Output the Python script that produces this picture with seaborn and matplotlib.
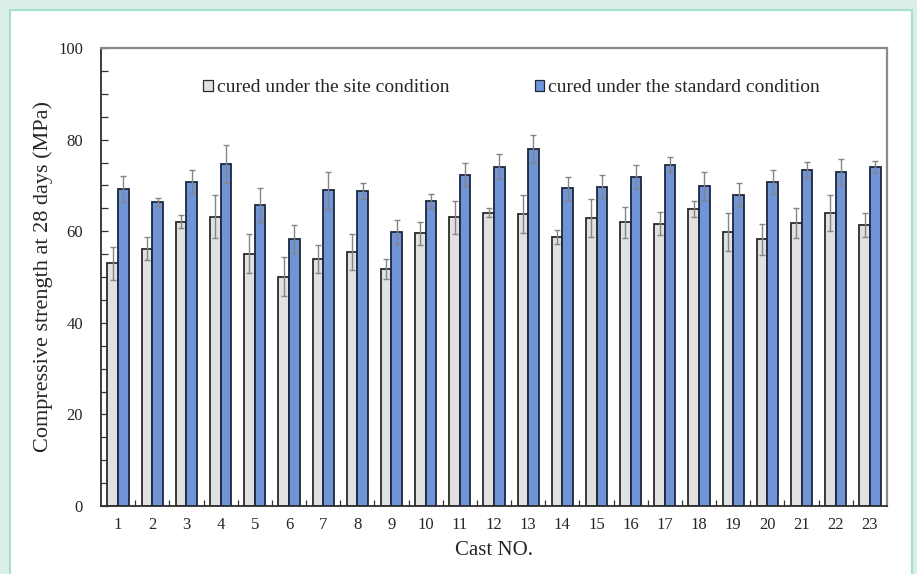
import matplotlib
matplotlib.use("Agg")
import matplotlib.pyplot as plt
from matplotlib.patches import Rectangle
from matplotlib.ticker import MultipleLocator, FixedLocator
import numpy as np
import pandas as pd
import seaborn as sns

# Cast numbers and 28-day compressive strengths (MPa)
casts = [str(i) for i in range(1, 24)]
site_mean = [53.0, 56.2, 62.1, 63.2, 55.1, 50.1, 53.9, 55.4, 51.8, 59.5, 63.0, 64.0,
             63.8, 58.7, 62.9, 61.9, 61.6, 64.8, 59.8, 58.2, 61.8, 63.9, 61.4]
site_err = [3.6, 2.5, 1.5, 4.6, 4.3, 4.2, 3.0, 3.9, 2.2, 2.5, 3.6, 1.0,
            4.2, 1.5, 4.1, 3.4, 2.5, 1.8, 4.1, 3.4, 3.2, 3.9, 2.6]
std_mean = [69.2, 66.4, 70.8, 74.7, 65.8, 58.3, 68.9, 68.8, 59.8, 66.6, 72.3, 74.1,
            77.9, 69.4, 69.7, 71.9, 74.5, 69.9, 68.0, 70.7, 73.4, 72.9, 74.0]
std_err = [2.8, 0.9, 2.6, 4.2, 3.7, 3.1, 4.1, 1.8, 2.7, 1.5, 2.5, 2.8,
           3.0, 2.5, 2.5, 2.6, 1.6, 3.1, 2.5, 2.6, 1.8, 2.9, 1.4]
series = ["cured under the site condition", "cured under the standard condition"]

df = pd.DataFrame({
    "cast": casts * 2,
    "strength": site_mean + std_mean,
    "err": site_err + std_err,
    "curing": [series[0]] * len(casts) + [series[1]] * len(casts),
})

sns.set_style("white")
plt.rcParams["font.family"] = ["Liberation Serif", "DejaVu Serif"]

fig = plt.figure(figsize=(9.17, 5.74), dpi=100)
fig.patch.set_facecolor("#dbefe7")
# white framed panel behind the chart
fig.add_artist(Rectangle((10 / 917, -0.05), 902 / 917, 1 - 10 / 574 + 0.05,
                         transform=fig.transFigure, facecolor="white",
                         edgecolor="#a9e0cc", linewidth=1.6, zorder=-10))

ax = fig.add_axes([101 / 917, 68 / 574, 786 / 917, 458 / 574])
ax.set_facecolor("white")

palette = {series[0]: "#e1e1e1", series[1]: "#6f95d6"}
sns.barplot(data=df, x="cast", y="strength", hue="curing", order=casts,
            hue_order=series, palette=palette, width=0.62, gap=0,
            errorbar=None, saturation=1, ax=ax, zorder=2)

edge = {series[0]: "#2b2b2b", series[1]: "#1d2740"}
for cont, name in zip(ax.containers, series):
    sub = df[df["curing"] == name].set_index("cast").loc[casts]
    xs = []
    for bar in cont:
        bar.set_edgecolor(edge[name])
        bar.set_linewidth(1.3)
        xs.append(bar.get_x() + bar.get_width() / 2)
    ax.errorbar(xs, sub["strength"].values, yerr=sub["err"].values, fmt="none",
                ecolor="#858585", elinewidth=1.0, capsize=2.5, capthick=1.0, zorder=3)

ax.set_xlim(-0.5, len(casts) - 0.5)
ax.set_ylim(0, 100)
ax.yaxis.set_major_locator(MultipleLocator(20))
ax.yaxis.set_minor_locator(MultipleLocator(5))
ax.xaxis.set_minor_locator(FixedLocator(np.arange(0.5, len(casts) - 1, 1.0)))

ax.tick_params(axis="y", which="both", direction="in", length=5, width=0.9,
               color="#333333", left=True, labelsize=12, pad=13)
ax.tick_params(axis="x", which="major", length=0, labelsize=12, pad=8)
ax.tick_params(axis="x", which="minor", direction="in", length=4, width=0.9,
               color="#333333", bottom=True)

for side in ["left", "bottom"]:
    ax.spines[side].set_color("#2e2e2e")
    ax.spines[side].set_linewidth(1.3)
for side in ["top", "right"]:
    ax.spines[side].set_color("#8a8a8a")
    ax.spines[side].set_linewidth(1.6)

ax.set_xlabel("Cast NO.", fontsize=15, labelpad=6)
ax.set_ylabel("Compressive strength at 28 days (MPa)", fontsize=16, labelpad=4)

leg = ax.legend(loc="center left", bbox_to_anchor=(0.12, 0.913), ncol=2, frameon=False,
                fontsize=14, handlelength=0.5, handleheight=0.5, handletextpad=0.2,
                columnspacing=4.4, borderaxespad=0)
for h, name in zip(leg.legend_handles, series):
    h.set_edgecolor(edge[name])
    h.set_linewidth(0.9)

fig.savefig("out.png", dpi=100, facecolor=fig.get_facecolor())
